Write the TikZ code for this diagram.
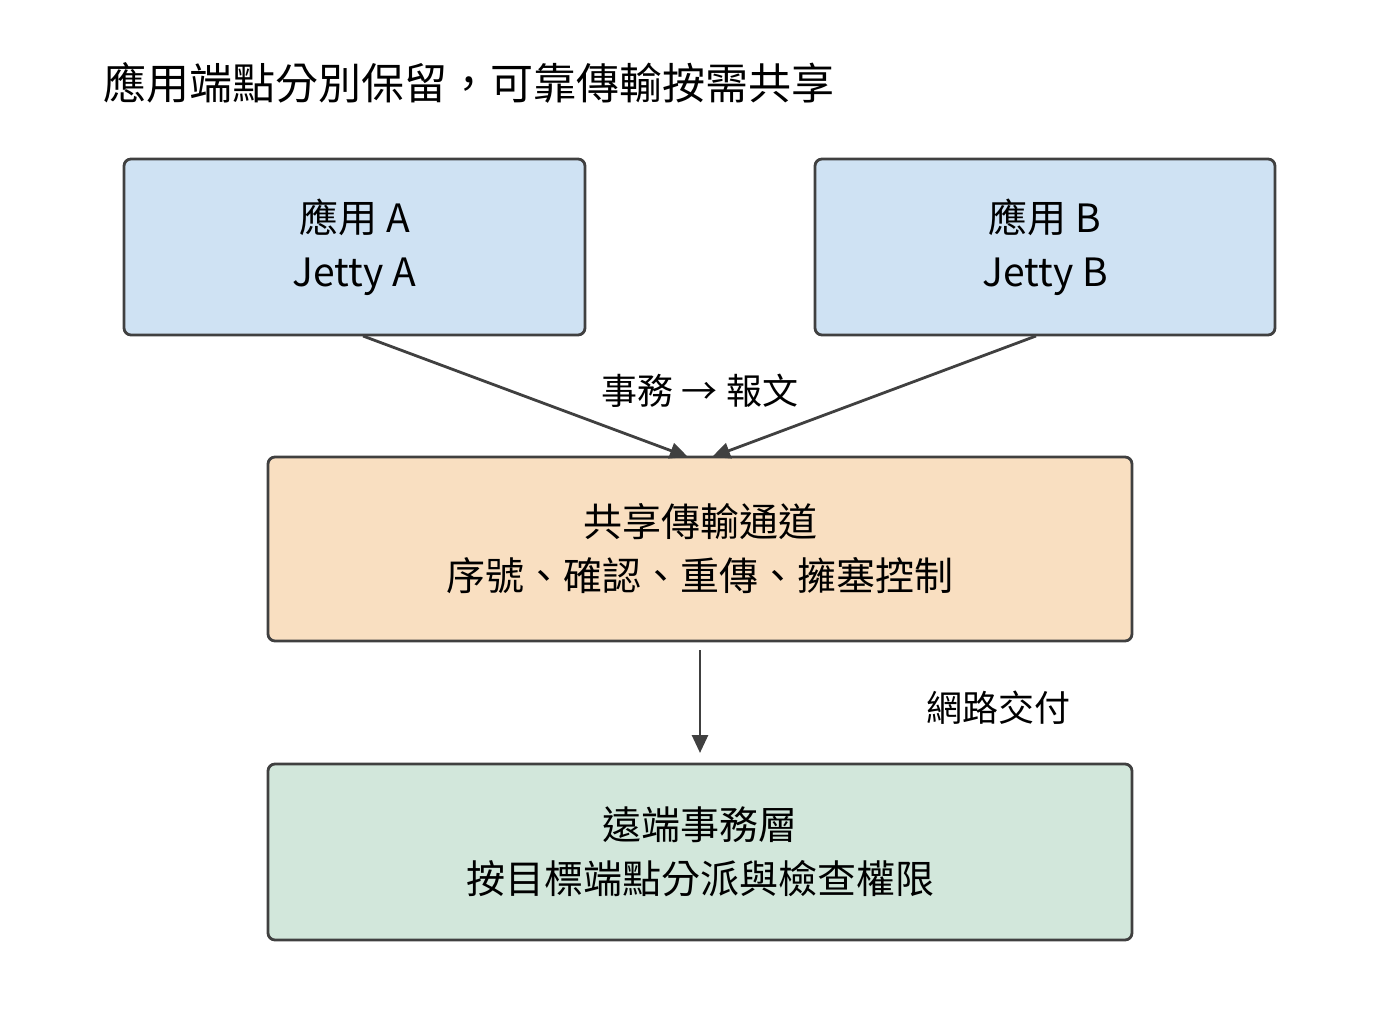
\documentclass[tikz,border=0pt]{standalone}
\usepackage{fontspec}
\setmainfont{Noto Sans CJK TC}
\usetikzlibrary{arrows.meta}
\begin{document}
\begin{tikzpicture}[x=1pt,y=-1pt,
 box/.style={draw=black!75,line width=2.8pt,rounded corners=7pt,align=center,font=\fontsize{39}{54}\selectfont},
 arr/.style={draw=black!75,line width=2.8pt,-{Triangle[length=18pt,width=16pt]}},
 lbl/.style={font=\fontsize{36}{40}\selectfont}]
\useasboundingbox (0,0) rectangle (1400,1032);
\node[anchor=west,font=\fontsize{43}{50}\selectfont] (title) at (100,83) {應用端點分別保留，可靠傳輸按需共享};
\node[box,fill={rgb,255:red,207;green,226;blue,243},minimum width=461pt,minimum height=176pt] (a) at (354.5,247) {應用 A\\Jetty A};
\node[box,fill={rgb,255:red,207;green,226;blue,243},minimum width=460pt,minimum height=176pt] (b) at (1045,247) {應用 B\\Jetty B};
\node[box,fill={rgb,255:red,249;green,223;blue,193},minimum width=864pt,minimum height=184pt] (m) at (700,549) {共享傳輸通道\\序號、確認、重傳、擁塞控制};
\node[box,fill={rgb,255:red,210;green,231;blue,219},minimum width=864pt,minimum height=176pt] (n) at (700,852) {遠端事務層\\按目標端點分派與檢查權限};
\coordinate (as) at (363,336); \coordinate (ae) at (688,457);
\coordinate (bs) at (1036,336); \coordinate (be) at (712,457);
\coordinate (ms) at (700,650); \coordinate (me) at (700,753);
\draw[arr] (as) -- (ae);
\draw[arr] (bs) -- (be);
\draw[arr] (ms) -- (me);
\node[lbl] (l1) at (700,391) {事務 → 報文};
\node[lbl] (l2) at (998,708) {網路交付};
\end{tikzpicture}
\end{document}
